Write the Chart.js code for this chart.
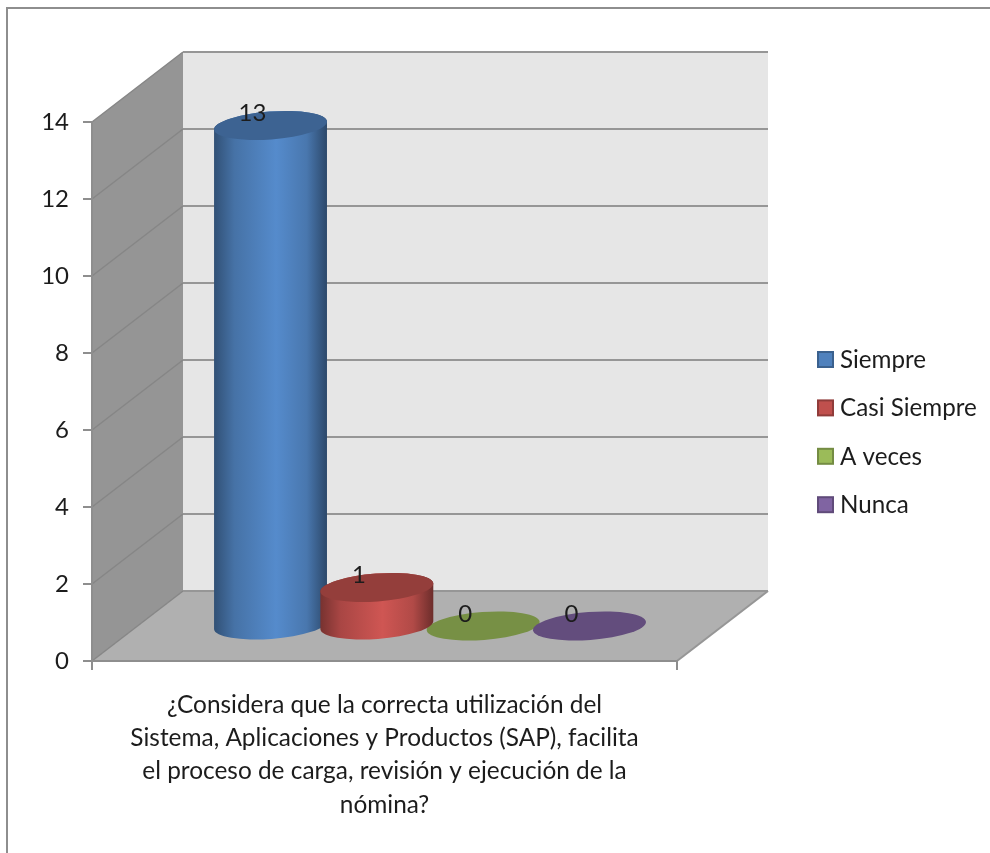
<!DOCTYPE html>
<html lang="es">
<head>
<meta charset="utf-8">
<title>Nómina SAP</title>
<style>
  html, body { margin: 0; padding: 0; background: #fff; }
  #wrap { width: 990px; height: 853px; overflow: hidden; }
</style>
<script src="https://cdn.jsdelivr.net/npm/chart.js@4/dist/chart.umd.min.js"></script>
</head>
<body>
<div id="wrap"><canvas id="chart" width="990" height="853"></canvas></div>
<script>
const seriesNames = ['Siempre', 'Casi Siempre', 'A veces', 'Nunca'];
const seriesValues = [13, 1, 0, 0];
const seriesColors = ['#4f81bd', '#c0504d', '#9bbb59', '#8064a2'];
const yTicks = [0, 2, 4, 6, 8, 10, 12, 14];
const questionLines = [
  '¿Considera que la correcta utilización del',
  'Sistema, Aplicaciones y Productos (SAP), facilita',
  'el proceso de carga, revisión y ejecución de la',
  'nómina?'
];

// painter's order seen in the picture: red sits over blue and green, purple over green
const drawOrder = [0, 2, 1, 3];

const DEPTH_X = 91;
const DEPTH_Y = 70;
const FONT = 'Lato, Carlito, "Open Sans", sans-serif';
const TEXT_COLOR = '#1c1c1c';

function shade(hex, f) {
  const n = parseInt(hex.slice(1), 16);
  const ch = s => Math.min(255, Math.round(((n >> s) & 255) * f));
  return `rgb(${ch(16)},${ch(8)},${ch(0)})`;
}

function drawCylinder(ctx, el, color) {
  const cx = el.x + DEPTH_X / 2;
  const topY = el.y - DEPTH_Y / 2;
  const baseY = el.base - DEPTH_Y / 2;
  const rx = el.width / 2 * 1.065;
  const ry = 14;
  const tilt = -0.075;

  if (baseY - topY > 0.5) {
    const grad = ctx.createLinearGradient(cx - rx, 0, cx + rx, 0);
    grad.addColorStop(0, shade(color, 0.62));
    grad.addColorStop(0.18, shade(color, 0.88));
    grad.addColorStop(0.55, shade(color, 1.08));
    grad.addColorStop(0.82, shade(color, 0.92));
    grad.addColorStop(1, shade(color, 0.56));
    ctx.beginPath();
    ctx.ellipse(cx, baseY, rx, ry, tilt, 0, Math.PI);
    ctx.ellipse(cx, topY, rx, ry, tilt, Math.PI, Math.PI * 2);
    ctx.closePath();
    ctx.fillStyle = grad;
    ctx.fill();
  }

  ctx.beginPath();
  ctx.ellipse(cx, topY, rx, ry, tilt, 0, Math.PI * 2);
  ctx.fillStyle = shade(color, 0.77);
  ctx.fill();
}

const scene3d = {
  id: 'scene3d',
  beforeDraw(chart) {
    const ctx = chart.ctx;
    const { left, right, top, bottom } = chart.chartArea;
    const y = chart.scales.y;

    ctx.save();
    // frame of the pasted picture
    ctx.strokeStyle = '#8e8e8e';
    ctx.lineWidth = 2;
    ctx.beginPath();
    ctx.moveTo(7, 853);
    ctx.lineTo(7, 8);
    ctx.lineTo(990, 8);
    ctx.stroke();

    // back wall
    ctx.fillStyle = '#e6e6e6';
    ctx.fillRect(left + DEPTH_X, top - DEPTH_Y, right - left, bottom - top);

    // side wall
    ctx.fillStyle = '#959595';
    ctx.beginPath();
    ctx.moveTo(left, top);
    ctx.lineTo(left + DEPTH_X, top - DEPTH_Y);
    ctx.lineTo(left + DEPTH_X, bottom - DEPTH_Y);
    ctx.lineTo(left, bottom);
    ctx.closePath();
    ctx.fill();

    // floor
    ctx.fillStyle = '#b0b0b0';
    ctx.beginPath();
    ctx.moveTo(left, bottom);
    ctx.lineTo(left + DEPTH_X, bottom - DEPTH_Y);
    ctx.lineTo(right + DEPTH_X, bottom - DEPTH_Y);
    ctx.lineTo(right, bottom);
    ctx.closePath();
    ctx.fill();

    // gridlines run along the side wall then across the back wall
    y.ticks.forEach(t => {
      const py = y.getPixelForValue(t.value);
      ctx.lineWidth = 1.5;
      ctx.strokeStyle = '#868686';
      ctx.beginPath();
      ctx.moveTo(left, py);
      ctx.lineTo(left + DEPTH_X, py - DEPTH_Y);
      ctx.stroke();
      ctx.lineWidth = 2;
      ctx.strokeStyle = '#969696';
      ctx.beginPath();
      ctx.moveTo(left + DEPTH_X, py - DEPTH_Y);
      ctx.lineTo(right + DEPTH_X, py - DEPTH_Y);
      ctx.stroke();
    });

    // right floor edge
    ctx.lineWidth = 2;
    ctx.strokeStyle = '#969696';
    ctx.beginPath();
    ctx.moveTo(right, bottom);
    ctx.lineTo(right + DEPTH_X, bottom - DEPTH_Y);
    ctx.stroke();
    ctx.restore();
  },
  // the flat bars are replaced by cylinders in afterDatasetsDraw
  beforeDatasetDraw() {
    return false;
  },
  afterDatasetsDraw(chart) {
    const ctx = chart.ctx;
    ctx.save();
    drawOrder.forEach(i => {
      drawCylinder(ctx, chart.getDatasetMeta(i).data[0], seriesColors[i]);
    });

    ctx.fillStyle = TEXT_COLOR;
    ctx.font = '24px ' + FONT;
    ctx.textAlign = 'center';
    ctx.textBaseline = 'middle';
    seriesValues.forEach((v, i) => {
      const el = chart.getDatasetMeta(i).data[0];
      ctx.fillText(String(v), el.x + DEPTH_X / 2 - 18, el.y - DEPTH_Y / 2 - 12);
    });

    // legend
    ctx.textAlign = 'left';
    seriesNames.forEach((name, i) => {
      const rowY = 360 + i * 48.4;
      ctx.fillStyle = seriesColors[i];
      ctx.fillRect(818, rowY - 8, 15, 15);
      ctx.lineWidth = 2;
      ctx.strokeStyle = shade(seriesColors[i], 0.75);
      ctx.strokeRect(818, rowY - 8, 15, 15);
      ctx.fillStyle = TEXT_COLOR;
      ctx.font = '24.2px ' + FONT;
      ctx.fillText(name, 840, rowY);
    });
    ctx.restore();
  }
};

new Chart(document.getElementById('chart'), {
  type: 'bar',
  data: {
    labels: [questionLines],
    datasets: seriesNames.map((name, i) => ({
      label: name,
      data: [seriesValues[i]],
      backgroundColor: seriesColors[i]
    }))
  },
  options: {
    responsive: false,
    animation: false,
    layout: { padding: { top: 122, right: 313, left: 0, bottom: 0 } },
    categoryPercentage: 0.727,
    barPercentage: 1,
    plugins: {
      legend: { display: false },
      tooltip: { enabled: false }
    },
    scales: {
      x: {
        afterFit: scale => { scale.height = 192; },
        grid: {
          offset: true,
          drawOnChartArea: false,
          color: '#8e8e8e',
          lineWidth: 2,
          tickLength: 9
        },
        border: { color: '#8e8e8e', width: 2 },
        ticks: {
          maxRotation: 0,
          autoSkip: false,
          padding: 18,
          color: TEXT_COLOR,
          font: { family: FONT, size: 24.4, lineHeight: '33.4px' }
        }
      },
      y: {
        min: 0,
        max: 14,
        afterBuildTicks: scale => { scale.ticks = yTicks.map(value => ({ value })); },
        afterFit: scale => { scale.width = 92; },
        grid: {
          drawOnChartArea: false,
          color: '#8e8e8e',
          lineWidth: 2,
          tickLength: 9
        },
        border: { color: '#8e8e8e', width: 2 },
        ticks: {
          padding: 14,
          color: TEXT_COLOR,
          font: { family: FONT, size: 24 }
        }
      }
    }
  },
  plugins: [scene3d]
});
</script>
</body>
</html>
